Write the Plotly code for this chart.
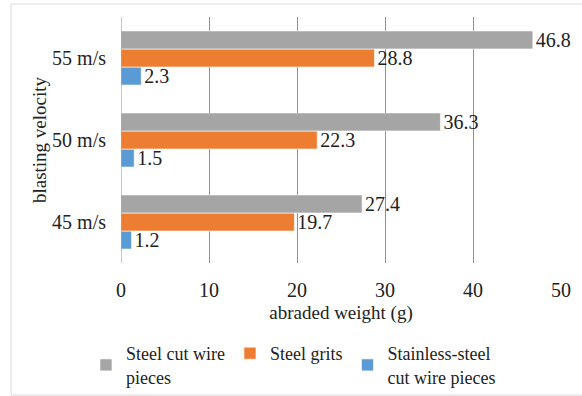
import plotly.graph_objects as go

# Abraded weight by blasting velocity and abrasive type
velocities = ["45 m/s", "50 m/s", "55 m/s"]
steel_cut_wire = [27.4, 36.3, 46.8]
steel_grits = [19.7, 22.3, 28.8]
stainless_cut_wire = [1.2, 1.5, 2.3]

series_names = ["Steel cut wire<br>pieces", "Steel grits", "Stainless-steel<br>cut wire pieces"]
colors = ["#A5A5A5", "#ED7D31", "#5B9BD5"]

FONT = "Liberation Serif"
W, H = 582, 396
ML, MR, MT, MB = 121, 21, 17, 133

fig = go.Figure()
# horizontal grouped bars stack from the bottom, so add them in reverse order
for name, vals, col in reversed(list(zip(series_names, [steel_cut_wire, steel_grits, stainless_cut_wire], colors))):
    fig.add_trace(go.Bar(
        y=velocities, x=vals, name=name, orientation="h",
        marker=dict(color=col, line=dict(color="white", width=0.6)),
        text=[f"{v:.1f}" for v in vals], textposition="outside",
        textfont=dict(family=FONT, size=20, color="#222"),
        cliponaxis=False, constraintext="none",
    ))

pw = W - ML - MR
ph = H - MT - MB

def px_x(p):
    return (p - ML) / pw

def px_y(p):
    return (H - MB - p) / ph

fig.update_layout(
    width=W, height=H,
    margin=dict(l=ML, r=MR, t=MT, b=MB, autoexpand=False),
    paper_bgcolor="white", plot_bgcolor="white",
    barmode="group", bargap=0.34, bargroupgap=0,
    font=dict(family=FONT, size=19, color="#222"),
    xaxis=dict(
        range=[0, 50], dtick=10, showgrid=True, gridcolor="#8f8f8f", gridwidth=1,
        zeroline=False, showline=False, ticks="", ticklabelstandoff=13,
        tickfont=dict(family=FONT, size=20, color="#222"),
        title=dict(text="abraded weight (g)", font=dict(family=FONT, size=19, color="#222"), standoff=5),
    ),
    yaxis=dict(
        showgrid=False, zeroline=False, showline=False, ticks="",
        ticklabelstandoff=14,
        tickfont=dict(family=FONT, size=20, color="#222"),
        title=dict(text="blasting velocity", font=dict(family=FONT, size=19, color="#222"), standoff=0),
    ),
    legend=dict(
        orientation="h", x=px_x(86), y=px_y(335), xanchor="left", yanchor="top",
        traceorder="reversed", font=dict(family=FONT, size=18, color="#222"),
        itemwidth=30, bgcolor="rgba(0,0,0,0)",
    ),
    showlegend=True,
    shapes=[dict(type="line", xref="x", yref="paper", x0=0, x1=0, y0=0, y1=1,
                 line=dict(color="#8f8f8f", width=1), layer="above"),
            dict(type="rect", xref="paper", yref="paper",
                 x0=px_x(11), x1=px_x(600), y0=px_y(395), y1=px_y(4),
                 line=dict(color="#d9d9d9", width=1), fillcolor="rgba(0,0,0,0)")],
)

fig.write_html("out.html")
